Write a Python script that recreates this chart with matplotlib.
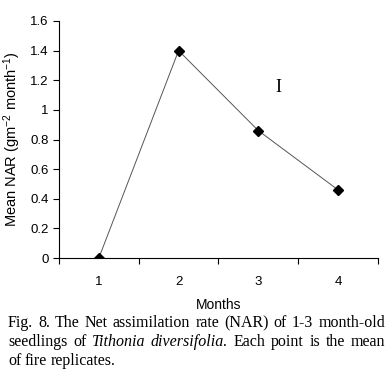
import matplotlib
matplotlib.use("Agg")
import matplotlib.pyplot as plt

# data
months = [1, 2, 3, 4]
nar = [0.0, 1.4, 0.86, 0.46]
y_ticks = [0, 0.2, 0.4, 0.6, 0.8, 1, 1.2, 1.4, 1.6]
y_tick_labels = ["0", "0.2", "0.4", "0.6", "0.8", "1", "1.2", "1.4", "1.6"]

caption_lines = [
    [("Fig. 8. The Net assimilation rate (NAR) of 1-3 month-old", "normal")],
    [("seedlings of", "normal"), ("Tithonia diversifolia.", "italic"),
     ("Each point is the mean", "normal")],
    [("of fire replicates.", "normal")],
]

plt.rcParams["font.family"] = ["Liberation Sans", "DejaVu Sans"]
plt.rcParams["mathtext.default"] = "regular"

fig = plt.figure(figsize=(3.92, 3.81), dpi=100)
ax = fig.add_axes([0.1505, 0.3228, 0.8135, 0.6221])

ax.plot(months, nar, color="#555555", linewidth=0.7, marker="D",
        markersize=5, markerfacecolor="black", markeredgecolor="black")

ax.set_xlim(0.5, 4.5)
ax.set_ylim(0, 1.6)
ax.set_yticks(y_ticks)
ax.set_yticklabels(y_tick_labels)
ax.set_xticks(months)
ax.set_xticks([0.5, 1.5, 2.5, 3.5, 4.5], minor=True)
ax.tick_params(axis="x", which="major", length=0, pad=13, labelsize=9.5)
ax.tick_params(axis="x", which="minor", length=4, width=0.8, direction="out")
ax.tick_params(axis="y", length=4, width=0.8, direction="out", labelsize=9.5)
for s in ["top", "right"]:
    ax.spines[s].set_visible(False)
for s in ["left", "bottom"]:
    ax.spines[s].set_linewidth(0.8)

ax.set_xlabel("Months", fontsize=10, labelpad=7)
ax.set_ylabel("Mean NAR (gm$^{-2}$ month$^{-1}$)", fontsize=10.5, labelpad=5)

ax.text(3.25, 1.148, "I", family="Liberation Serif", fontsize=13,
        ha="center", va="center")

# justified caption, placed word by word
fig.canvas.draw()
renderer = fig.canvas.get_renderer()
W, H = 392.0, 381.0
x0, x1 = 8.0, 385.0
ys = [323, 342, 361]
for i, line in enumerate(caption_lines):
    words = []
    for chunk, style in line:
        for w in chunk.split():
            words.append((w, style))
    items = []
    total = 0.0
    for w, style in words:
        t = fig.text(0, 0, w, family="Liberation Serif", style=style,
                     fontsize=11.5, ha="left", va="center")
        bb = t.get_window_extent(renderer)
        items.append((t, bb.width))
        total += bb.width
    if i < len(caption_lines) - 1 and len(items) > 1:
        gap = (x1 - x0 - total) / (len(items) - 1)
    else:
        gap = 3.5
    x = x0
    for t, wd in items:
        t.set_position((x / W, 1 - ys[i] / H))
        x += wd + gap

fig.savefig("out.png", dpi=100)
